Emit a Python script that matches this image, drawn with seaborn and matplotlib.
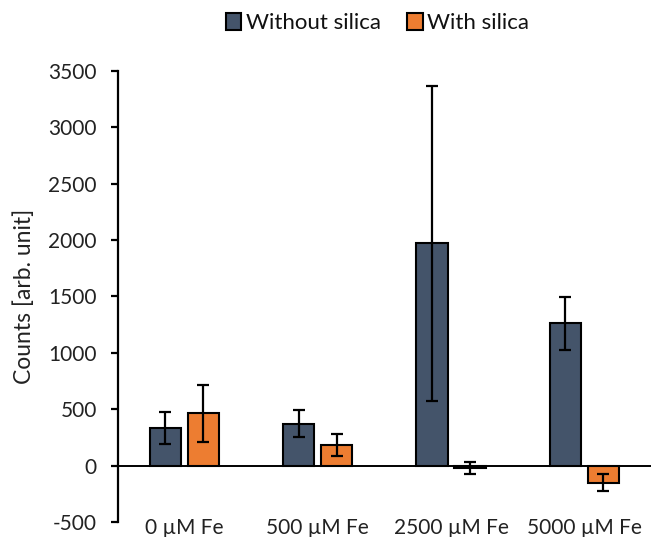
import matplotlib
matplotlib.use("Agg")
import matplotlib.pyplot as plt
import seaborn as sns
import pandas as pd

# Measured counts per iron concentration, with and without silica
concentrations = ["0 µM Fe", "500 µM Fe", "2500 µM Fe", "5000 µM Fe"]
conditions = ["Without silica", "With silica"]
without_silica = [329, 373, 1972, 1261]
without_silica_err = [142, 124, 1395, 236]
with_silica = [462, 183, -22, -151]
with_silica_err = [249, 98, 55, 76]
y_ticks = [-500, 0, 500, 1000, 1500, 2000, 2500, 3000, 3500]

colors = {"Without silica": "#44546A", "With silica": "#ED7D31"}

sns.set_theme(style="white")
plt.rcParams["font.family"] = ["Lato", "DejaVu Sans"]

df = pd.DataFrame({
    "Concentration": concentrations * 2,
    "Condition": [conditions[0]] * 4 + [conditions[1]] * 4,
    "Counts": without_silica + with_silica,
})
errors = {conditions[0]: without_silica_err, conditions[1]: with_silica_err}

fig = plt.figure(figsize=(6.51, 5.37), dpi=100)
ax = fig.add_axes([0.181, 0.028, 0.819, 0.84])

sns.barplot(data=df, x="Concentration", y="Counts", hue="Condition",
            order=concentrations, hue_order=conditions, palette=colors,
            saturation=1, errorbar=None, width=0.57, gap=0.18,
            edgecolor="black", linewidth=1.5, ax=ax)

bar_containers = list(ax.containers)

# Error bars centred on each bar
for cond, container in zip(conditions, bar_containers):
    xs = [b.get_x() + b.get_width() / 2 for b in container]
    ys = [b.get_y() + b.get_height() for b in container]
    ax.errorbar(xs, ys, yerr=errors[cond], fmt="none", ecolor="black",
                elinewidth=1.6, capsize=4.5, capthick=1.6, zorder=5)

ax.axhline(0, color="black", lw=1.4, zorder=4)

ax.set_ylim(-500, 3500)
ax.set_xlim(-0.5, 3.5)
ax.set_yticks(y_ticks)
ax.set_yticklabels([str(t) for t in y_ticks])
ax.set_xlabel("")
ax.set_ylabel("Counts [arb. unit]", fontsize=16.5, labelpad=10,
              color="#222222")

for side in ["top", "right", "bottom"]:
    ax.spines[side].set_visible(False)
ax.spines["left"].set_linewidth(1.6)
ax.spines["left"].set_color("black")

ax.tick_params(axis="y", which="both", left=True, length=5, width=1.6,
               color="black", labelsize=15, pad=10, labelcolor="#222222")
ax.tick_params(axis="x", bottom=False, labelsize=15, pad=-9,
               labelcolor="#222222")

ax.get_legend().remove()
handles = [c.patches[0] for c in bar_containers]
fig.legend(handles, conditions, loc="center", bbox_to_anchor=(0.58, 0.957),
           ncol=2, frameon=False, fontsize=16, handlelength=0.7,
           handleheight=0.8, handletextpad=0.2, columnspacing=1.2,
           labelcolor="#111111")

fig.savefig("out.png", dpi=100)
